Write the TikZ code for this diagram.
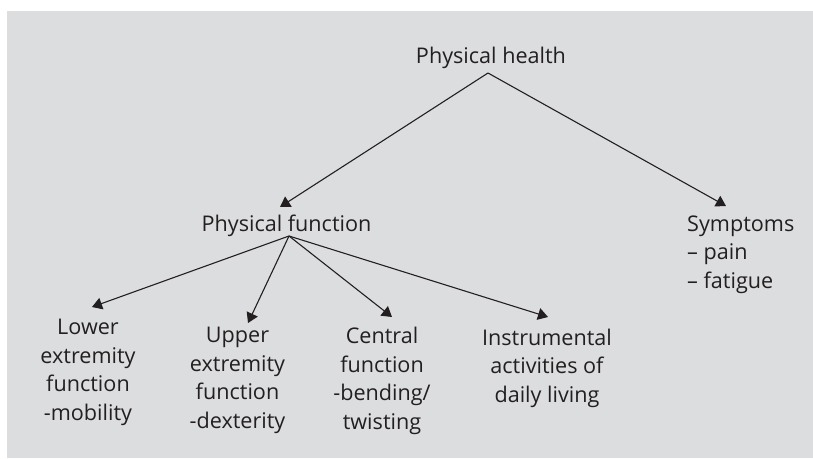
\documentclass[tikz,border=0pt]{standalone}
\usepackage{fontspec}
\setmainfont{Open Sans}
\usetikzlibrary{arrows.meta}
\definecolor{bggray}{RGB}{220,221,223}
\definecolor{ink}{RGB}{35,31,32}
\begin{document}
\begin{tikzpicture}[x=1pt, y=-1pt, line join=round, >={Triangle[width=12pt,length=10pt]},
  lbl/.style={inner sep=0pt, text=ink, font=\fontsize{21.6}{28.4}\selectfont},
  arr/.style={->, line width=1.1pt, draw=ink}]
	\useasboundingbox (0,0) rectangle (813,458);
	\fill[bggray] (7,11) rectangle (813,458);
	% tree labels (multi-line ones sit on their last baseline)
	\node[lbl, anchor=base] (health) at (491,63) {Physical health};
	\node[lbl, anchor=base] (func) at (286.5,231) {Physical function};
	\node[lbl, anchor=base west, align=left] (sympt) at (687,288) {Symptoms\\– pain\\– fatigue};
	\node[lbl, anchor=base, align=center] (lower) at (88,420) {Lower\\extremity\\function\\-mobility};
	\node[lbl, anchor=base, align=center] (upper) at (237.5,428) {Upper\\extremity\\function\\-dexterity};
	\node[lbl, anchor=base, align=center] (central) at (382,429) {Central\\function\\-bending/\\twisting};
	\node[lbl, anchor=base, align=center] (iadl) at (547,402) {Instrumental\\activities of\\daily living};
	% branch points and arrow ends
	\coordinate (health-s) at (488,73);
	\coordinate (func-s) at (289,236);
	\coordinate (func-n) at (280,207);
	\coordinate (sympt-n) at (726,206);
	\coordinate (lower-n) at (92,307);
	\coordinate (upper-n) at (248,323);
	\coordinate (central-n) at (392,317);
	\coordinate (iadl-n) at (548,317);
	\draw[arr] (health-s) -- (func-n);
	\draw[arr] (health-s) -- (sympt-n);
	\foreach \t in {lower,upper,central,iadl}
		\draw[arr] (func-s) -- (\t-n);
\end{tikzpicture}
\end{document}
